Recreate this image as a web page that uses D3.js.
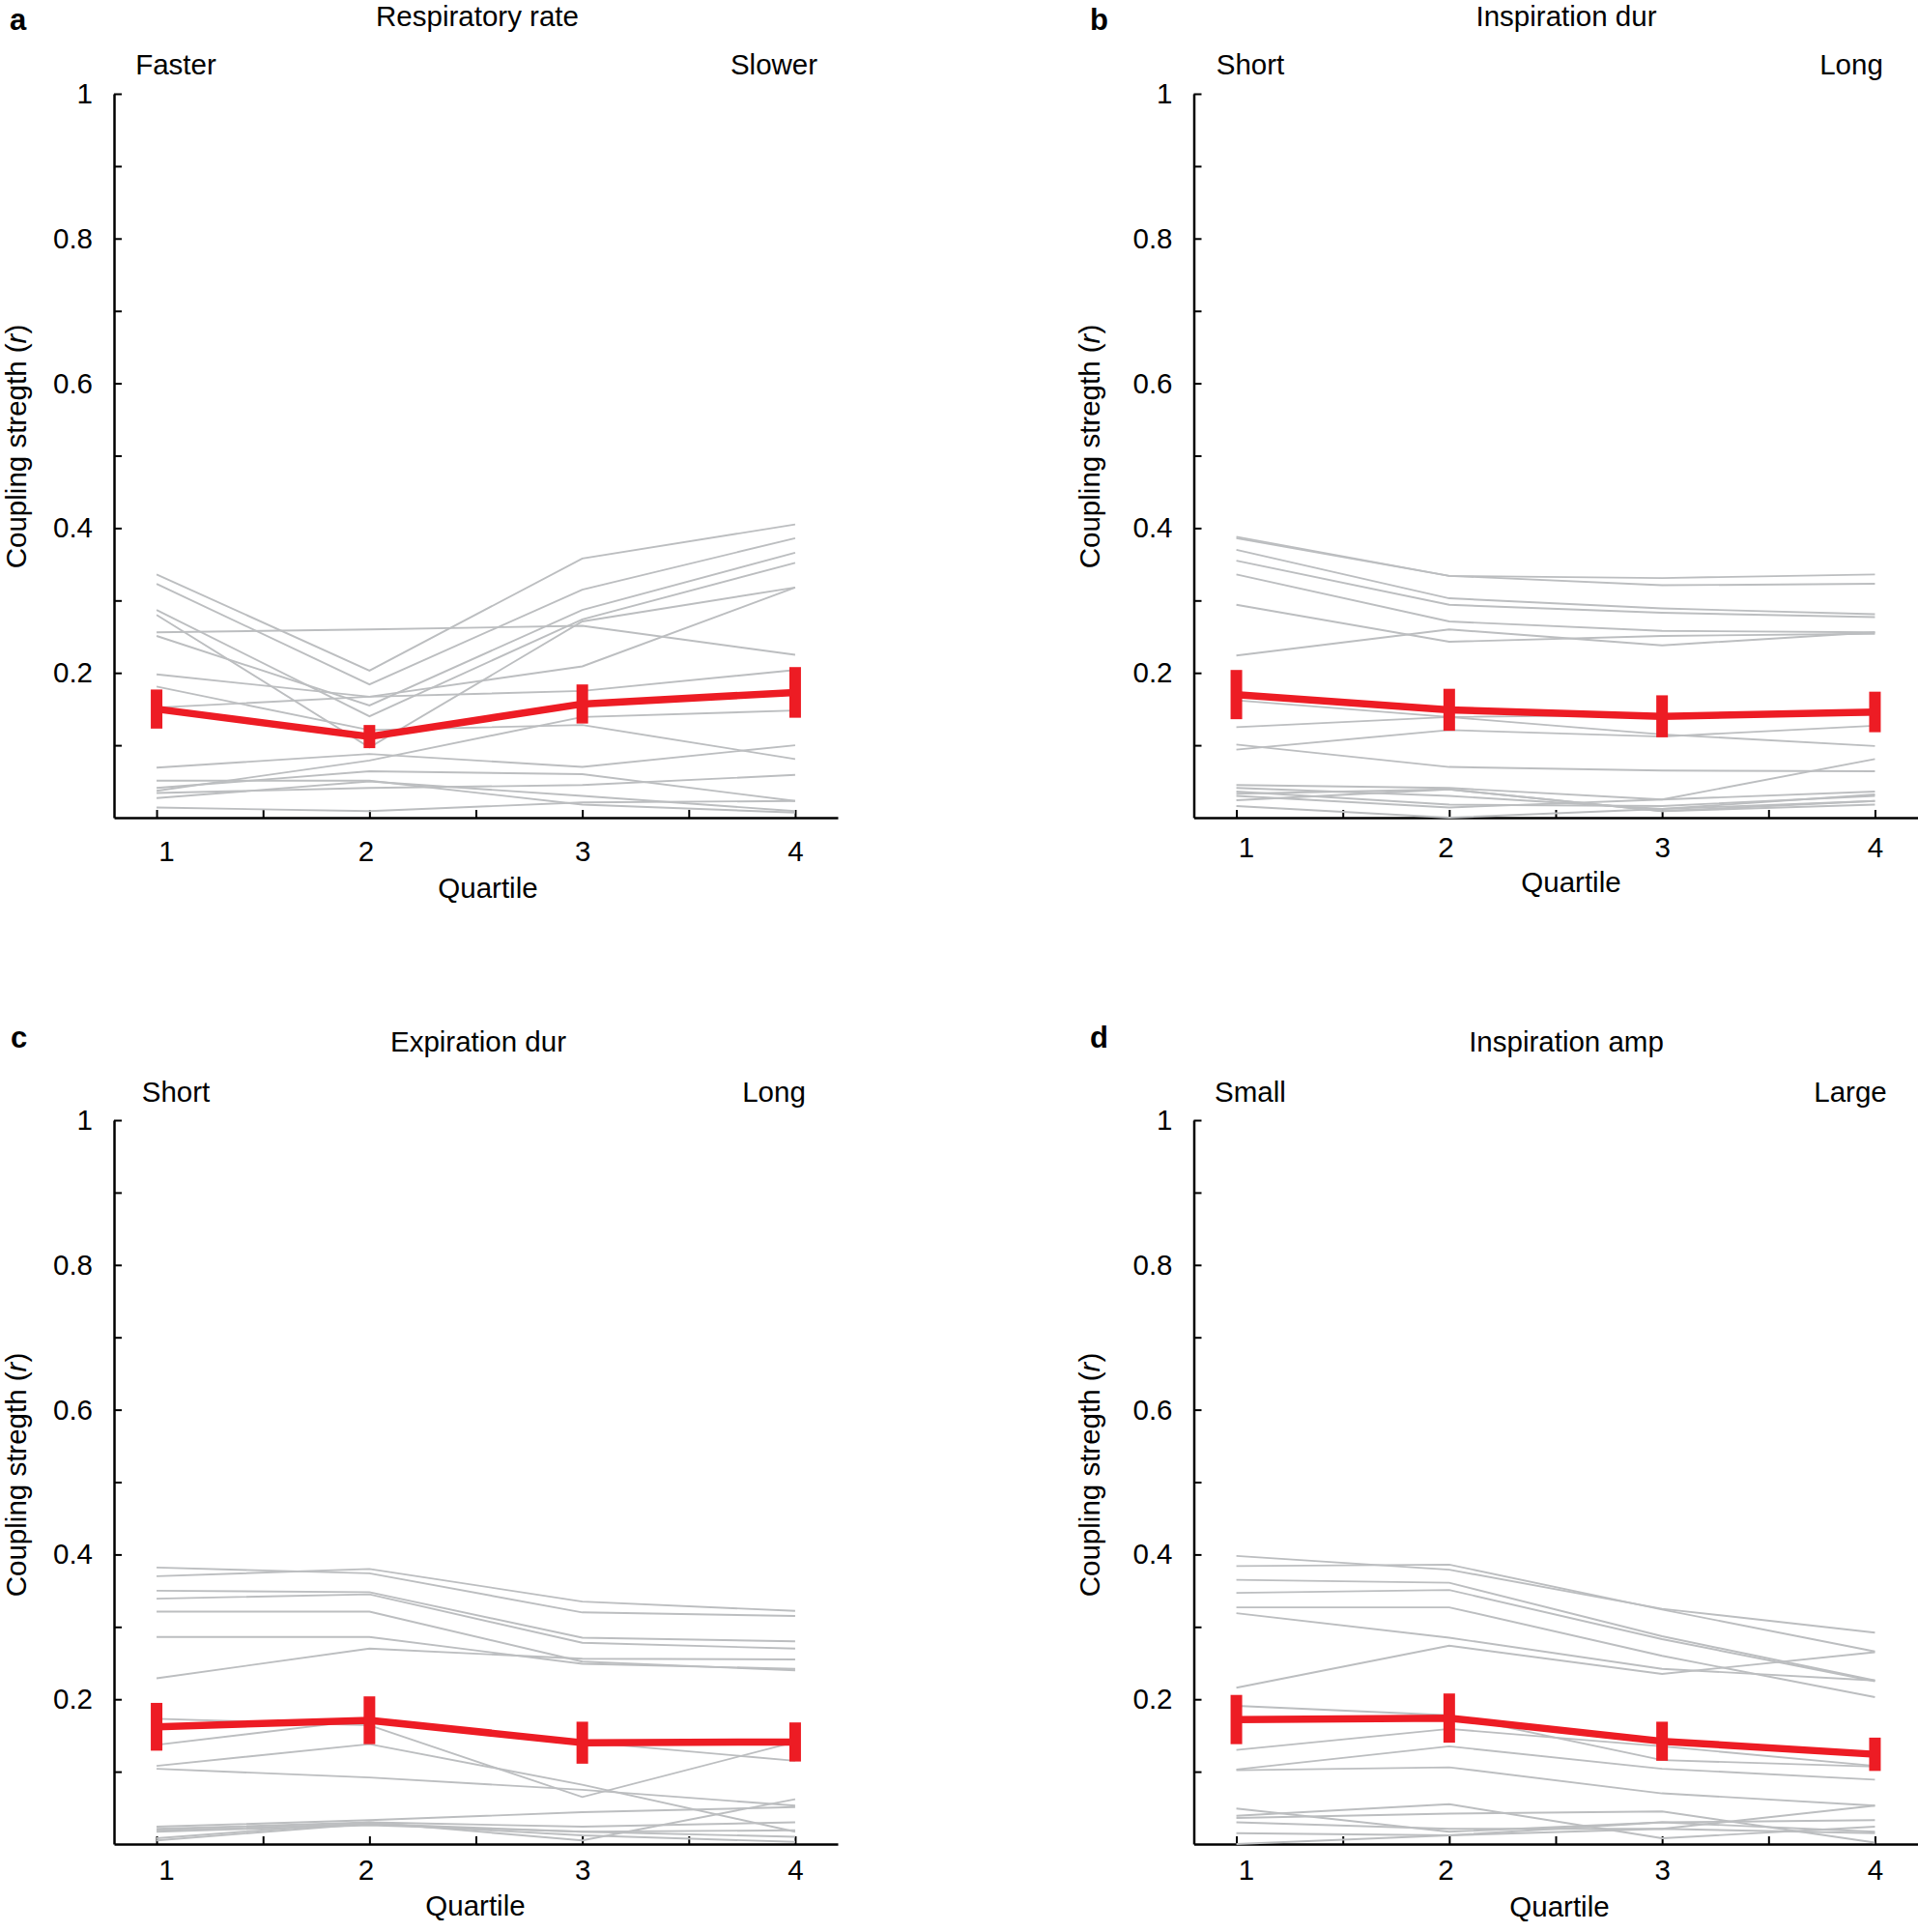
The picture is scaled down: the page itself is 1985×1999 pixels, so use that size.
<!DOCTYPE html>
<html lang="en">
<head>
<meta charset="UTF-8">
<title>Coupling strength by quartile</title>
<script src="https://cdn.jsdelivr.net/npm/d3@7"></script>
<style>
  body { margin: 0; background: #fff; }
  svg { display: block; font-family: "Liberation Sans", Arial, Helvetica, sans-serif; }
</style>
</head>
<body>
<svg width="1985" height="1999"></svg>
<script>
// ---- data ----
var quartiles = [1, 2, 3, 4];
var panelLetters = ['a', 'b', 'c', 'd'];
var panelTitles = ['Respiratory rate', 'Inspiration dur', 'Expiration dur', 'Inspiration amp'];
var lowLabels = ['Faster', 'Short', 'Short', 'Small'];
var highLabels = ['Slower', 'Long', 'Long', 'Large'];

var xTicks = [1, 1.5, 2, 2.5, 3, 3.5, 4];
var xTickLabels = ['1', '', '2', '', '3', '', '4'];
var yTicks = [0.1, 0.2, 0.3, 0.4, 0.5, 0.6, 0.7, 0.8, 0.9, 1];
var yTickLabels = ['', '0.2', '', '0.4', '', '0.6', '', '0.8', '', '1'];

// group mean and error per quartile
var meanA = [0.150, 0.112, 0.157, 0.173];
var errA  = [0.027, 0.016, 0.027, 0.035];
var meanB = [0.170, 0.149, 0.140, 0.146];
var errB  = [0.034, 0.029, 0.029, 0.028];
var meanC = [0.162, 0.171, 0.140, 0.141];
var errC  = [0.033, 0.033, 0.029, 0.027];
var meanD = [0.172, 0.174, 0.142, 0.124];
var errD  = [0.034, 0.034, 0.027, 0.023];

// single subjects (Q1..Q4)
var subjectsA = [
  [0.336, 0.203, 0.358, 0.405],
  [0.323, 0.184, 0.315, 0.386],
  [0.287, 0.140, 0.274, 0.352],
  [0.280, 0.097, 0.271, 0.318],
  [0.256, 0.260, 0.265, 0.225],
  [0.251, 0.155, 0.287, 0.366],
  [0.198, 0.167, 0.209, 0.318],
  [0.181, 0.121, 0.128, 0.081],
  [0.152, 0.167, 0.175, 0.204],
  [0.069, 0.088, 0.070, 0.100],
  [0.037, 0.079, 0.139, 0.148],
  [0.041, 0.064, 0.060, 0.023],
  [0.051, 0.051, 0.018, 0.007],
  [0.034, 0.041, 0.045, 0.059],
  [0.027, 0.050, 0.030, 0.009],
  [0.014, 0.009, 0.021, 0.023]
];
var subjectsB = [
  [0.388, 0.334, 0.331, 0.336],
  [0.386, 0.334, 0.321, 0.323],
  [0.370, 0.303, 0.289, 0.281],
  [0.355, 0.294, 0.283, 0.277],
  [0.336, 0.271, 0.258, 0.256],
  [0.294, 0.243, 0.251, 0.254],
  [0.224, 0.260, 0.238, 0.256],
  [0.162, 0.139, 0.115, 0.099],
  [0.125, 0.139, 0.142, 0.142],
  [0.094, 0.121, 0.112, 0.127],
  [0.101, 0.070, 0.065, 0.064],
  [0.045, 0.041, 0.025, 0.081],
  [0.041, 0.030, 0.012, 0.032],
  [0.036, 0.018, 0.016, 0.030],
  [0.033, 0.039, 0.009, 0.023],
  [0.030, 0.014, 0.025, 0.036],
  [0.024, 0.039, 0.009, 0.018],
  [0.016, 0.000, 0.012, 0.023]
];
var subjectsC = [
  [0.370, 0.380, 0.335, 0.322],
  [0.382, 0.374, 0.320, 0.315],
  [0.350, 0.348, 0.285, 0.280],
  [0.339, 0.345, 0.278, 0.270],
  [0.321, 0.321, 0.252, 0.240],
  [0.286, 0.286, 0.249, 0.242],
  [0.229, 0.270, 0.256, 0.255],
  [0.173, 0.164, 0.065, 0.141],
  [0.137, 0.172, 0.141, 0.115],
  [0.108, 0.138, 0.082, 0.017],
  [0.104, 0.092, 0.075, 0.053],
  [0.024, 0.033, 0.044, 0.051],
  [0.021, 0.030, 0.024, 0.030],
  [0.019, 0.028, 0.012, 0.003],
  [0.017, 0.026, 0.017, 0.019],
  [0.008, 0.030, 0.005, 0.062],
  [0.005, 0.028, 0.017, 0.010]
];
var subjectsD = [
  [0.398, 0.379, 0.325, 0.292],
  [0.384, 0.386, 0.324, 0.266],
  [0.365, 0.361, 0.287, 0.226],
  [0.347, 0.351, 0.283, 0.225],
  [0.327, 0.327, 0.260, 0.203],
  [0.319, 0.285, 0.242, 0.226],
  [0.216, 0.274, 0.235, 0.265],
  [0.191, 0.178, 0.116, 0.107],
  [0.130, 0.159, 0.135, 0.108],
  [0.103, 0.135, 0.104, 0.089],
  [0.102, 0.106, 0.070, 0.053],
  [0.049, 0.017, 0.030, 0.033],
  [0.039, 0.055, 0.008, 0.024],
  [0.036, 0.042, 0.045, 0.002],
  [0.030, 0.021, 0.021, 0.053],
  [0.015, 0.012, 0.030, 0.017],
  [0.000, 0.012, 0.021, 0.015]
];

var means = [meanA, meanB, meanC, meanD];
var errs = [errA, errB, errC, errD];
var subjects = [subjectsA, subjectsB, subjectsC, subjectsD];

// ---- layout (pixels) ----
var layout = [
  {x0: 118,    top: 97,   bottom: 846,  letter: [10, 31],    title: [494, 27],    low: [182, 77],    high: [801, 77],    ylab: [27, 462],    quart: [505, 929],   pad: 24},
  {x0: 1235.5, top: 97,   bottom: 846,  letter: [1128, 31],  title: [1621, 27],   low: [1294, 77],   high: [1916, 77],   ylab: [1138, 462],  quart: [1626, 923],  pad: 20},
  {x0: 118,    top: 1159, bottom: 1908, letter: [11, 1084],  title: [495, 1088],  low: [182, 1140],  high: [801, 1140],  ylab: [27, 1526],   quart: [492, 1982],  pad: 16},
  {x0: 1235.5, top: 1159, bottom: 1908, letter: [1128, 1084],title: [1621, 1088], low: [1294, 1140], high: [1915, 1140], ylab: [1138, 1526], quart: [1614, 1983], pad: 16}
];
var plotW = 749;
var fontSize = 29.5;
var xLabelShift = [10, 0, -4, 0, 0, 0, 0];   // small nudges of the quartile numbers
var grey = '#bcbec0', red = '#ed1c24';

var svg = d3.select('svg');

layout.forEach(function(L, p) {
  var x = d3.scaleLinear().domain([0.8, 4.2]).range([L.x0, L.x0 + plotW]);
  var y = d3.scaleLinear().domain([0, 1]).range([L.bottom, L.top]);
  var g = svg.append('g');

  // axes, ticks pointing inward
  var xAxis = d3.axisBottom(x)
    .tickValues(xTicks)
    .tickSizeInner(-8).tickSizeOuter(0)
    .tickPadding(L.pad)
    .tickFormat(function(d, i) { return xTickLabels[i]; });
  var yAxis = d3.axisLeft(y)
    .tickValues(yTicks)
    .tickSizeInner(-8).tickSizeOuter(0)
    .tickPadding(22)
    .tickFormat(function(d, i) { return yTickLabels[i]; });

  var gx = g.append('g').attr('transform', 'translate(0,' + L.bottom + ')').call(xAxis);
  var gy = g.append('g').attr('transform', 'translate(' + L.x0 + ',0)').call(yAxis);
  [gx, gy].forEach(function(a) {
    a.select('.domain').attr('stroke', '#000').attr('stroke-width', 2.5);
    a.selectAll('.tick line').attr('stroke', '#000').attr('stroke-width', 2);
    a.selectAll('.tick text').attr('font-size', fontSize).attr('fill', '#000')
      .attr('font-family', '"Liberation Sans", Arial, Helvetica, sans-serif');
  });
  gx.selectAll('.tick text').attr('dx', function(d, i) { return xLabelShift[i]; });

  // subject lines
  var line = d3.line()
    .x(function(d, i) { return x(quartiles[i]); })
    .y(function(d) { return y(d); });
  g.append('g').selectAll('path')
    .data(subjects[p])
    .enter().append('path')
    .attr('d', line)
    .attr('fill', 'none')
    .attr('stroke', grey)
    .attr('stroke-width', 1.9);

  // mean line and error bars
  g.append('path')
    .attr('d', line(means[p]))
    .attr('fill', 'none')
    .attr('stroke', red)
    .attr('stroke-width', 7.5)
    .attr('stroke-linejoin', 'round');
  g.append('g').selectAll('line')
    .data(means[p])
    .enter().append('line')
    .attr('x1', function(d, i) { return x(quartiles[i]); })
    .attr('x2', function(d, i) { return x(quartiles[i]); })
    .attr('y1', function(d, i) { return y(d - errs[p][i]); })
    .attr('y2', function(d, i) { return y(d + errs[p][i]); })
    .attr('stroke', red)
    .attr('stroke-width', 12);

  // texts
  g.append('text').attr('x', L.letter[0]).attr('y', L.letter[1])
    .attr('font-size', 31).attr('font-weight', 'bold').text(panelLetters[p]);
  g.append('text').attr('x', L.title[0]).attr('y', L.title[1])
    .attr('font-size', fontSize).attr('text-anchor', 'middle').text(panelTitles[p]);
  g.append('text').attr('x', L.low[0]).attr('y', L.low[1])
    .attr('font-size', fontSize).attr('text-anchor', 'middle').text(lowLabels[p]);
  g.append('text').attr('x', L.high[0]).attr('y', L.high[1])
    .attr('font-size', fontSize).attr('text-anchor', 'middle').text(highLabels[p]);
  g.append('text').attr('x', L.quart[0]).attr('y', L.quart[1])
    .attr('font-size', fontSize).attr('text-anchor', 'middle').text('Quartile');

  var yl = g.append('text')
    .attr('transform', 'translate(' + L.ylab[0] + ',' + L.ylab[1] + ') rotate(-90)')
    .attr('font-size', fontSize).attr('text-anchor', 'middle');
  yl.append('tspan').text('Coupling stregth (');
  yl.append('tspan').attr('font-style', 'italic').text('r');
  yl.append('tspan').text(')');
});
</script>
</body>
</html>
